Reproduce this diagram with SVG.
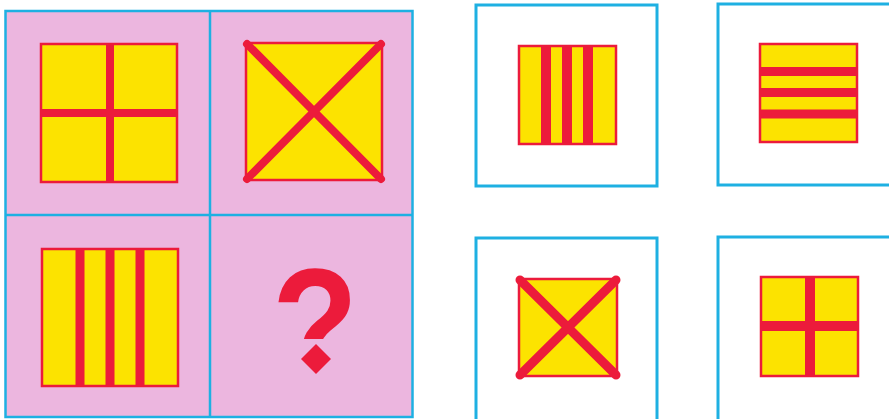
<svg xmlns="http://www.w3.org/2000/svg" width="889" height="419" viewBox="0 0 889 419">
<defs>
<style>
.grid{fill:#ecb6df;stroke:#1eb0e2;stroke-width:2.5}
.div{stroke:#1eb0e2;stroke-width:2.5}
.box{fill:#ffffff;stroke:#1eb0e2;stroke-width:3}
.flag{fill:#fce300;stroke:#ec1b3b;stroke-width:2.5}
.bar{fill:#ec1b3b}
.diag{stroke:#ec1b3b;stroke-linecap:round;fill:none}
.q{fill:#ec1b3b;font-family:"Liberation Sans",Arial,sans-serif;font-weight:bold}
</style>
<clipPath id="hook"><rect x="250" y="240" width="120" height="99"/></clipPath>
</defs>
<rect width="889" height="419" fill="#ffffff"/>

<g id="grid">
<rect class="grid" x="5.5" y="11" width="407" height="406"/>
<line class="div" x1="210" y1="11" x2="210" y2="417"/>
<line class="div" x1="5.5" y1="215" x2="412.5" y2="215"/>
</g>

<g id="cell-cross">
<rect class="flag" x="41" y="44" width="136" height="138"/>
<rect class="bar" x="106" y="44" width="8" height="138"/>
<rect class="bar" x="41" y="109" width="136" height="8"/>
</g>

<g id="cell-x">
<rect class="flag" x="246" y="43" width="136" height="137"/>
<line class="diag" stroke-width="8" x1="247" y1="44" x2="381" y2="179"/>
<line class="diag" stroke-width="8" x1="381" y1="44" x2="247" y2="179"/>
</g>

<g id="cell-stripes">
<rect class="flag" x="42" y="249" width="136" height="137"/>
<rect class="bar" x="75.5" y="249" width="9" height="137"/>
<rect class="bar" x="105.5" y="249" width="9" height="137"/>
<rect class="bar" x="135.5" y="249" width="9" height="137"/>
</g>

<g id="cell-question">
<g clip-path="url(#hook)">
<text class="q" x="0" y="0" font-size="160" text-anchor="middle" transform="translate(315,380) scale(0.88,1)">?</text>
</g>
<polygon class="bar" points="316,344 331,359 316,374 301,359"/>
</g>

<g id="option-a">
<rect class="box" x="476" y="5" width="181" height="181"/>
<rect class="flag" x="519" y="46" width="97" height="98"/>
<rect class="bar" x="541" y="46" width="10" height="98"/>
<rect class="bar" x="562" y="46" width="10" height="98"/>
<rect class="bar" x="583" y="46" width="10" height="98"/>
</g>

<g id="option-b">
<rect class="box" x="718" y="4" width="190" height="181"/>
<rect class="flag" x="760" y="44" width="97" height="98"/>
<rect class="bar" x="760" y="67" width="97" height="9"/>
<rect class="bar" x="760" y="88" width="97" height="9"/>
<rect class="bar" x="760" y="109.5" width="97" height="9"/>
</g>

<g id="option-c">
<rect class="box" x="476" y="238" width="181" height="185"/>
<rect class="flag" x="519" y="279" width="98" height="97"/>
<line class="diag" stroke-width="9" x1="520" y1="280" x2="616" y2="375"/>
<line class="diag" stroke-width="9" x1="616" y1="280" x2="520" y2="375"/>
</g>

<g id="option-d">
<rect class="box" x="718" y="237" width="190" height="186"/>
<rect class="flag" x="761" y="277" width="97" height="99"/>
<rect class="bar" x="805" y="277" width="10" height="99"/>
<rect class="bar" x="761" y="321" width="97" height="10"/>
</g>

<g id="connectors"></g>
</svg>
